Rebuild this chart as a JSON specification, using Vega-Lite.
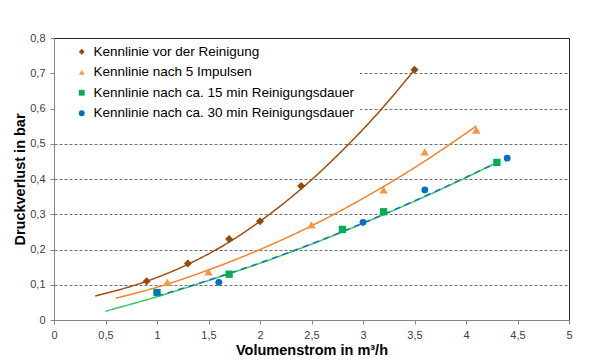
{
  "$schema": "https://vega.github.io/schema/vega-lite/v6.json",
  "width": 515,
  "height": 282,
  "autosize": "none",
  "padding": {"left": 54, "top": 38, "right": 20, "bottom": 41},
  "background": "white",
  "config": {
    "view": {"stroke": "#262626", "strokeWidth": 1},
    "font": "Liberation Sans",
    "axis": {
      "labelFont": "Liberation Sans",
      "labelFontSize": 11,
      "labelColor": "#404040",
      "tickColor": "#868686",
      "domainColor": "#868686",
      "tickSize": 4,
      "labelOverlap": false,
      "titleFont": "Liberation Sans",
      "titleFontSize": 14.5,
      "titleFontWeight": "bold",
      "titleColor": "#000000"
    },
    "legend": {
      "title": null,
      "orient": "none",
      "legendX": 1,
      "legendY": 1,
      "padding": 6,
      "fillColor": "white",
      "symbolOffset": 14,
      "symbolSize": 34,
      "labelFont": "Liberation Sans",
      "labelFontSize": 13.5,
      "labelColor": "#000000",
      "labelOffset": 5,
      "labelLimit": 400,
      "rowPadding": 5.5
    }
  },
  "datasets": {
    "points": [
      {"s": "Kennlinie vor der Reinigung", "x": 0.9, "y": 0.11},
      {"s": "Kennlinie vor der Reinigung", "x": 1.3, "y": 0.16},
      {"s": "Kennlinie vor der Reinigung", "x": 1.7, "y": 0.23},
      {"s": "Kennlinie vor der Reinigung", "x": 2.0, "y": 0.28},
      {"s": "Kennlinie vor der Reinigung", "x": 2.4, "y": 0.38},
      {"s": "Kennlinie vor der Reinigung", "x": 3.5, "y": 0.71},
      {"s": "Kennlinie nach 5 Impulsen", "x": 1.1, "y": 0.107},
      {"s": "Kennlinie nach 5 Impulsen", "x": 1.5, "y": 0.137},
      {"s": "Kennlinie nach 5 Impulsen", "x": 2.5, "y": 0.27},
      {"s": "Kennlinie nach 5 Impulsen", "x": 3.2, "y": 0.369},
      {"s": "Kennlinie nach 5 Impulsen", "x": 3.6, "y": 0.477},
      {"s": "Kennlinie nach 5 Impulsen", "x": 4.1, "y": 0.539},
      {"s": "Kennlinie nach ca. 15 min Reinigungsdauer", "x": 1.0, "y": 0.078},
      {"s": "Kennlinie nach ca. 15 min Reinigungsdauer", "x": 1.7, "y": 0.13},
      {"s": "Kennlinie nach ca. 15 min Reinigungsdauer", "x": 2.8, "y": 0.257},
      {"s": "Kennlinie nach ca. 15 min Reinigungsdauer", "x": 3.2, "y": 0.307},
      {"s": "Kennlinie nach ca. 15 min Reinigungsdauer", "x": 4.3, "y": 0.447},
      {"s": "Kennlinie nach ca. 30 min Reinigungsdauer", "x": 1.0, "y": 0.078},
      {"s": "Kennlinie nach ca. 30 min Reinigungsdauer", "x": 1.6, "y": 0.107},
      {"s": "Kennlinie nach ca. 30 min Reinigungsdauer", "x": 3.0, "y": 0.277},
      {"s": "Kennlinie nach ca. 30 min Reinigungsdauer", "x": 3.6, "y": 0.369},
      {"s": "Kennlinie nach ca. 30 min Reinigungsdauer", "x": 4.4, "y": 0.459}
    ],
    "curves": [
      {"s": "A", "x": 0.4, "y": 0.068},
      {"s": "A", "x": 0.9, "y": 0.11},
      {"s": "A", "x": 1.3, "y": 0.158},
      {"s": "A", "x": 1.7, "y": 0.221},
      {"s": "A", "x": 2.0, "y": 0.28},
      {"s": "A", "x": 2.4, "y": 0.372},
      {"s": "A", "x": 2.8, "y": 0.481},
      {"s": "A", "x": 3.2, "y": 0.605},
      {"s": "A", "x": 3.5, "y": 0.71},
      {"s": "B", "x": 0.6, "y": 0.062},
      {"s": "B", "x": 1.0, "y": 0.093},
      {"s": "B", "x": 1.5, "y": 0.142},
      {"s": "B", "x": 2.0, "y": 0.2},
      {"s": "B", "x": 2.5, "y": 0.267},
      {"s": "B", "x": 3.0, "y": 0.345},
      {"s": "B", "x": 3.5, "y": 0.432},
      {"s": "B", "x": 4.1, "y": 0.55},
      {"s": "C", "x": 0.5, "y": 0.025},
      {"s": "C", "x": 1.0, "y": 0.066},
      {"s": "C", "x": 1.5, "y": 0.112},
      {"s": "C", "x": 2.0, "y": 0.161},
      {"s": "C", "x": 2.5, "y": 0.215},
      {"s": "C", "x": 3.0, "y": 0.274},
      {"s": "C", "x": 3.5, "y": 0.337},
      {"s": "C", "x": 4.0, "y": 0.404},
      {"s": "C", "x": 4.3, "y": 0.447},
      {"s": "D", "x": 1.0, "y": 0.068},
      {"s": "D", "x": 1.5, "y": 0.113},
      {"s": "D", "x": 2.0, "y": 0.162},
      {"s": "D", "x": 2.5, "y": 0.216},
      {"s": "D", "x": 3.0, "y": 0.275},
      {"s": "D", "x": 3.5, "y": 0.338},
      {"s": "D", "x": 4.0, "y": 0.405},
      {"s": "D", "x": 4.4, "y": 0.46}
    ]
  },
  "encoding": {
    "x": {
      "field": "x", "type": "quantitative",
      "scale": {"domain": [0, 5], "nice": false},
      "axis": {
        "title": "Volumenstrom in m³/h",
        "values": [0, 0.5, 1, 1.5, 2, 2.5, 3, 3.5, 4, 4.5, 5],
        "tickCount": 11,
        "labelExpr": "replace(format(datum.value, '.1~f'), '.', ',')",
        "grid": false,
        "labelPadding": 5,
        "titlePadding": 3,
        "labelFlush": false
      }
    },
    "y": {
      "field": "y", "type": "quantitative",
      "scale": {"domain": [0, 0.8], "nice": false},
      "axis": {
        "title": "Druckverlust in bar",
        "values": [0, 0.1, 0.2, 0.3, 0.4, 0.5, 0.6, 0.7, 0.8],
        "tickCount": 9,
        "labelExpr": "replace(format(datum.value, '.1~f'), '.', ',')",
        "grid": true,
        "gridDash": [3, 2],
        "gridColor": {"condition": {"test": "datum.value < 0.05 || datum.value > 0.75", "value": "transparent"}, "value": "#6e6e6e"},
        "labelPadding": 5,
        "titlePadding": 2,
        "labelFlush": false
      }
    }
  },
  "layer": [
    {
      "data": {"name": "curves"},
      "mark": {"type": "line", "interpolate": "monotone", "strokeWidth": 1.5},
      "encoding": {
        "stroke": {
          "field": "s", "type": "nominal", "legend": null,
          "scale": {"domain": ["A", "B", "C", "D"], "range": ["#9E4E12", "#F5822A", "#3CC85A", "#1A73C8"]}
        },
        "strokeDash": {
          "field": "s", "type": "nominal", "legend": null,
          "scale": {"domain": ["A", "B", "C", "D"], "range": [[1, 0], [1, 0], [1, 0], [6, 5]]}
        }
      }
    },
    {
      "data": {"name": "points"},
      "transform": [{"filter": "datum.s === 'Kennlinie vor der Reinigung'"}],
      "mark": {"type": "point", "filled": true, "opacity": 1, "size": 64},
      "encoding": {
        "color": {"field": "s", "type": "nominal", "scale": {"domain": ["Kennlinie vor der Reinigung", "Kennlinie nach 5 Impulsen", "Kennlinie nach ca. 15 min Reinigungsdauer", "Kennlinie nach ca. 30 min Reinigungsdauer"], "range": ["#984807", "#F79646", "#00B050", "#0070C0"]}},
        "shape": {"field": "s", "type": "nominal", "scale": {"domain": ["Kennlinie vor der Reinigung", "Kennlinie nach 5 Impulsen", "Kennlinie nach ca. 15 min Reinigungsdauer", "Kennlinie nach ca. 30 min Reinigungsdauer"], "range": ["diamond", "triangle-up", "square", "circle"]}}
      }
    },
    {
      "data": {"name": "points"},
      "transform": [{"filter": "datum.s === 'Kennlinie nach 5 Impulsen'"}],
      "mark": {"type": "point", "filled": true, "opacity": 1, "size": 72},
      "encoding": {
        "color": {"field": "s", "type": "nominal"},
        "shape": {"field": "s", "type": "nominal"}
      }
    },
    {
      "data": {"name": "points"},
      "transform": [{"filter": "datum.s === 'Kennlinie nach ca. 15 min Reinigungsdauer'"}],
      "mark": {"type": "point", "filled": true, "opacity": 1, "size": 54},
      "encoding": {
        "color": {"field": "s", "type": "nominal"},
        "shape": {"field": "s", "type": "nominal"}
      }
    },
    {
      "data": {"name": "points"},
      "transform": [{"filter": "datum.s === 'Kennlinie nach ca. 30 min Reinigungsdauer'"}],
      "mark": {"type": "point", "filled": true, "opacity": 1, "size": 46},
      "encoding": {
        "color": {"field": "s", "type": "nominal"},
        "shape": {"field": "s", "type": "nominal"}
      }
    }
  ]
}
